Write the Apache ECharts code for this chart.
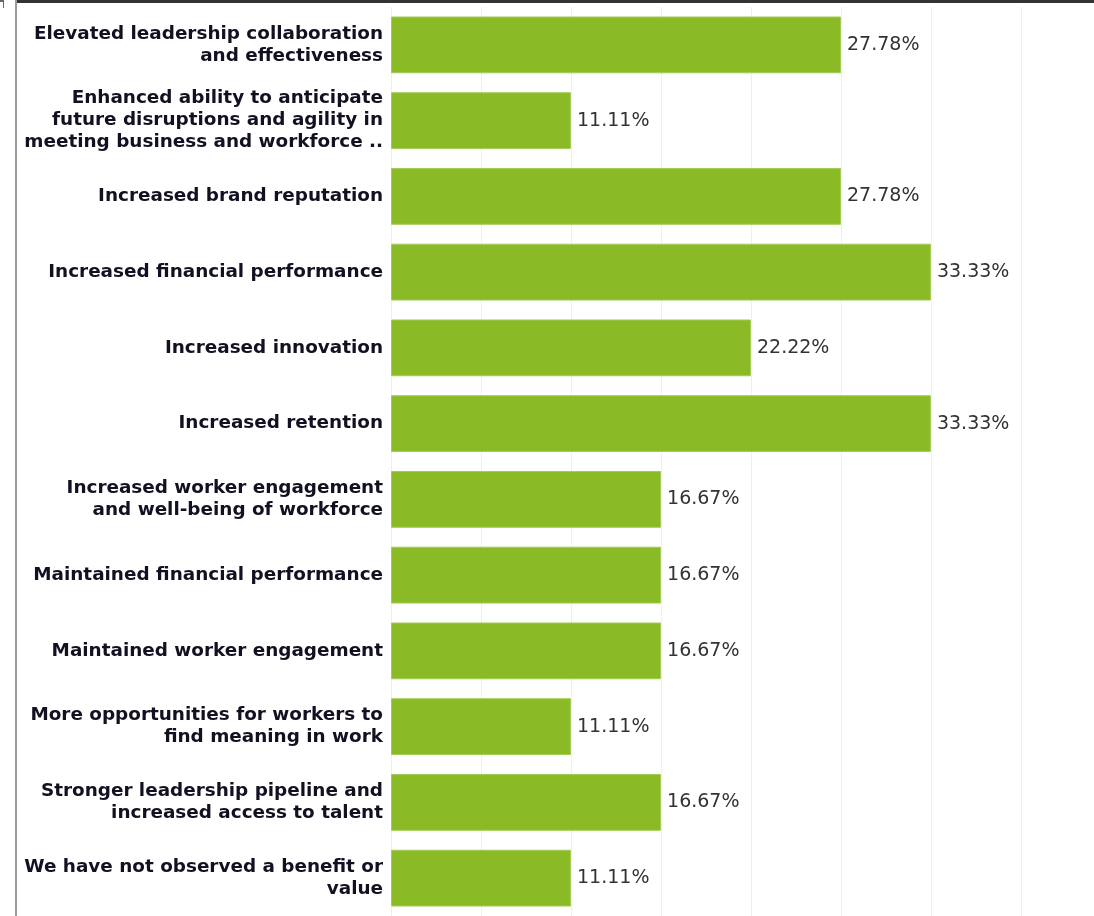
<!DOCTYPE html>
<html lang="en">
<head>
    <meta charset="UTF-8">
    <title>Benefits observed</title>
    <script src="https://cdn.jsdelivr.net/npm/echarts@6/dist/echarts.min.js"></script>
    <style>
        html, body { margin: 0; padding: 0; background: #fff; }
        #chart { width: 1094px; height: 916px; }
    </style>
</head>
<body>
<div id="chart"></div>
<script type="text/javascript">
    // categories top to bottom, as shown
    var categories = [
        'Elevated leadership collaboration\nand effectiveness',
        'Enhanced ability to anticipate\nfuture disruptions and agility in\nmeeting business and workforce ..',
        'Increased brand reputation',
        'Increased financial performance',
        'Increased innovation',
        'Increased retention',
        'Increased worker engagement\nand well-being of workforce',
        'Maintained financial performance',
        'Maintained worker engagement',
        'More opportunities for workers to\nfind meaning in work',
        'Stronger leadership pipeline and\nincreased access to talent',
        'We have not observed a benefit or\nvalue'
    ];
    var values = [27.78, 11.11, 27.78, 33.33, 22.22, 33.33, 16.67, 16.67, 16.67, 11.11, 16.67, 11.11];
    var step = 100 / 18;

    var chart = echarts.init(document.getElementById('chart'));
    chart.setOption({
        animation: false,
        grid: { left: 391, right: 73, top: 7, bottom: 0, containLabel: false },
        xAxis: {
            type: 'value',
            min: 0,
            max: step * 7,
            interval: step,
            axisLabel: { show: false },
            axisLine: { show: false },
            axisTick: { show: false },
            splitLine: { lineStyle: { color: '#efefef', width: 1 } }
        },
        yAxis: {
            type: 'category',
            inverse: true,
            data: categories,
            axisLine: { show: false },
            axisTick: { show: false },
            axisLabel: {
                margin: 8,
                color: '#111122',
                fontFamily: 'DejaVu Sans',
                fontWeight: 'bold',
                fontSize: 18.4,
                lineHeight: 22,
                align: 'right',
                padding: [6, 0, 0, 0]
            }
        },
        series: [{
            type: 'bar',
            data: values,
            barCategoryGap: '25%',
            itemStyle: { color: '#8abb27', borderColor: '#a4cc55', borderWidth: 1 },
            label: {
                show: true,
                position: 'right',
                distance: 6,
                color: '#333333',
                fontFamily: 'DejaVu Sans',
                fontSize: 19,
                padding: [2, 0, 0, 0],
                formatter: function (p) { return p.value.toFixed(2) + '%'; }
            }
        }],
        graphic: [
            { type: 'rect', shape: { x: 16, y: 0, width: 1078, height: 3 }, style: { fill: '#333333' } },
            { type: 'rect', shape: { x: 15, y: 0, width: 2, height: 916 }, style: { fill: '#999999' } },
            { type: 'rect', shape: { x: 0, y: 0, width: 4, height: 2 }, style: { fill: '#666666' } },
            { type: 'rect', shape: { x: 3, y: 0, width: 1, height: 8 }, style: { fill: '#666666' } }
        ]
    });
</script>
</body>
</html>
